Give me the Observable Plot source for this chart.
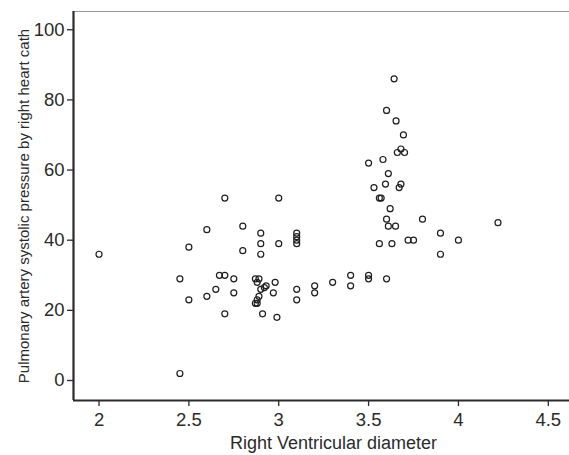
<!DOCTYPE html>
<html>
<head>
<meta charset="utf-8">
<script src="https://cdn.jsdelivr.net/npm/d3@7"></script>
<script src="https://cdn.jsdelivr.net/npm/@observablehq/plot@0.6"></script>
<style>
  html, body { margin: 0; padding: 0; background: #fff; }
  #chart svg { display: block; }
  #chart g[aria-label="x-axis tick label"],
  #chart g[aria-label="y-axis tick label"] { font-size: 18.5px; }
  #chart g[aria-label="y-axis label"] { font-size: 15px; }
</style>
</head>
<body>
<div id="chart"></div>
<script>
// Right ventricular diameter (x) and pulmonary artery systolic pressure (y)
const rvDiameter = [
  2.00, 2.45, 2.45, 2.50, 2.50, 2.60, 2.60, 2.65, 2.67, 2.70,
  2.70, 2.70, 2.75, 2.75, 2.80, 2.80, 2.87, 2.89, 2.88, 2.90,
  2.90, 2.90, 2.93, 2.92, 2.90, 2.89, 2.88, 2.88, 2.87, 2.91,
  2.97, 2.98, 2.99, 3.00, 3.00, 3.10, 3.10, 3.10, 3.10, 3.10,
  3.10, 3.20, 3.20, 3.30, 3.40, 3.40, 3.50, 3.50, 3.60, 3.50,
  3.53, 3.56, 3.57, 3.56, 3.58, 3.594, 3.60, 3.60, 3.61, 3.61,
  3.62, 3.63, 3.642, 3.65, 3.653, 3.66, 3.68, 3.70, 3.67, 3.68,
  3.694, 3.72, 3.75, 3.80, 3.90, 3.90, 4.00, 4.22
];
const paPressure = [
  36, 29, 2, 38, 23, 43, 24, 26, 30, 30,
  52, 19, 29, 25, 44, 37, 29, 29, 28, 42,
  39, 36, 27, 26.5, 26, 24, 23, 22, 22, 19,
  25, 28, 18, 52, 39, 42, 41, 40, 39, 26,
  23, 27, 25, 28, 30, 27, 30, 29, 29, 62,
  55, 52, 52, 39, 63, 56, 77, 46, 59, 44,
  49, 39, 86, 44, 74, 65, 66, 65, 55, 56,
  70, 40, 40, 46, 42, 36, 40, 45
];
const xTicks = [2, 2.5, 3, 3.5, 4, 4.5];
const xTickLabels = ["2", "2.5", "3", "3.5", "4", "4.5"];
const yTicks = [0, 20, 40, 60, 80, 100];
const yTickLabels = ["0", "20", "40", "60", "80", "100"];
const xTitle = "Right Ventricular diameter";
const yTitle = "Pulmonary artery systolic pressure by right heart cath";

const points = rvDiameter.map((x, i) => ({x, y: paPressure[i]}));
const xDomain = [1.858, 4.618];
const yDomain = [-5.7, 105.2];
const ink = "#2b2b2b";

const chart = Plot.plot({
  width: 569,
  height: 455,
  marginLeft: 73,
  marginRight: 0,
  marginTop: 11,
  marginBottom: 55,
  style: {fontFamily: "'Liberation Sans', Arial, sans-serif", color: ink, background: "#fff"},
  x: {domain: xDomain},
  y: {domain: yDomain},
  marks: [
    Plot.axisX({
      ticks: xTicks,
      tickFormat: d => xTickLabels[xTicks.indexOf(d)],
      tickSize: 6,
      tickPadding: 6,
      stroke: ink,
      strokeWidth: 1.3,
      label: null
    }),
    Plot.text([xTitle], {
      frameAnchor: "bottom",
      dx: 12,
      dy: 43,
      lineAnchor: "middle",
      fontSize: 18,
      fill: ink
    }),
    Plot.axisY({
      ticks: yTicks,
      tickFormat: d => yTickLabels[yTicks.indexOf(d)],
      tickSize: 6,
      tickPadding: 3,
      stroke: ink,
      strokeWidth: 1.3,
      label: yTitle,
      labelAnchor: "center",
      labelArrow: "none",
      labelOffset: 55
    }),
    Plot.ruleY([yDomain[1]], {stroke: "#9a9a9a", strokeWidth: 1.2}),
    Plot.ruleY([yDomain[0]], {stroke: ink, strokeWidth: 2.2}),
    Plot.ruleX([xDomain[0]], {stroke: ink, strokeWidth: 2.2}),
    Plot.dot(points, {x: "x", y: "y", r: 3, stroke: "#1e1e1e", strokeWidth: 1.2, fill: "none"})
  ]
});
document.getElementById("chart").appendChild(chart);
</script>
</body>
</html>
